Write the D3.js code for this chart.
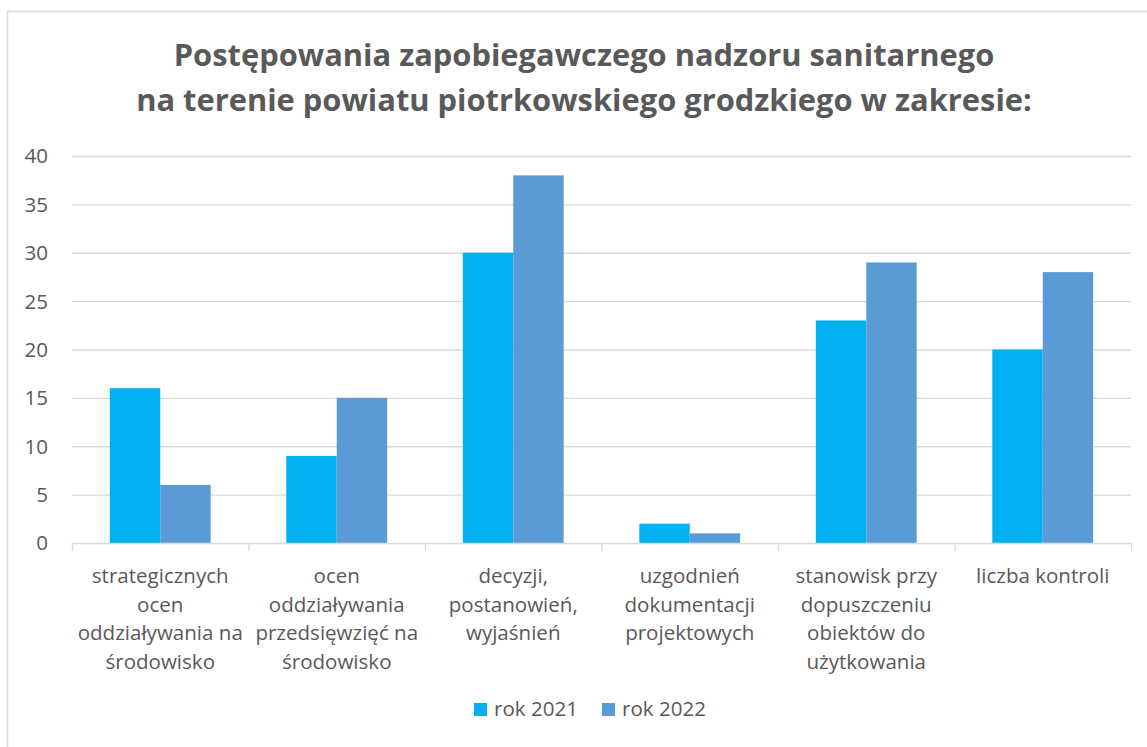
<!DOCTYPE html>
<html><head><meta charset="utf-8">
<script src="https://cdn.jsdelivr.net/npm/d3@7/dist/d3.min.js"></script>
<style>body{margin:0;background:#fff;} svg{display:block;font-family:"Open Sans",Lato,sans-serif;}</style>
</head><body>
<script>
const categories = [
  ["strategicznych","ocen","oddziaływania na","środowisko"],
  ["ocen","oddziaływania","przedsięwzięć na","środowisko"],
  ["decyzji,","postanowień,","wyjaśnień"],
  ["uzgodnień","dokumentacji","projektowych"],
  ["stanowisk przy","dopuszczeniu","obiektów do","użytkowania"],
  ["liczba kontroli"]
];
const seriesNames = ["rok 2021","rok 2022"];
const values2021 = [16, 9, 30, 2, 23, 20];
const values2022 = [6, 15, 38, 1, 29, 28];
const yTicks = [0,5,10,15,20,25,30,35,40];
const titleLines = ["Postępowania zapobiegawczego nadzoru sanitarnego","na terenie powiatu piotrkowskiego grodzkiego w zakresie:"];
const colors = ["#00B0F0","#5B9BD5"];

(function(){
const W=1147,H=747;
const svg=d3.select("body").append("svg").attr("width",W).attr("height",H);
svg.append("rect").attr("x",7.5).attr("y",11.5).attr("width",W+10).attr("height",H+10)
  .attr("fill","#fff").attr("stroke","#D9D9D9").attr("stroke-width",1.5);

// measure helper: font size so that a given string has target width
function fitSize(str, target, weight){
  const t=svg.append("text").attr("font-size",20).attr("font-weight",weight||"normal").text(str);
  const w=t.node().getComputedTextLength(); t.remove();
  return 20*target/w;
}
const fs=fitSize("strategicznych",137);
const tfs=fitSize(titleLines[1],896,"bold");

const pl=72,pr=1131,pt=156,pb=543;
const x=d3.scaleBand().domain(d3.range(categories.length)).range([pl,pr]).paddingInner(0).paddingOuter(0);
const y=d3.scaleLinear().domain([0,40]).range([pb,pt]);
const bw=x.bandwidth();
const barW=bw/3.5;
const x1=d3.scaleBand().domain([0,1]).range([0,2*barW]);

svg.append("g").selectAll("line").data(yTicks.filter(d=>d>0)).join("line")
  .attr("x1",pl).attr("x2",pr).attr("y1",d=>y(d)+0.5).attr("y2",d=>y(d)+0.5)
  .attr("stroke","#D9D9D9").attr("stroke-width",1.3);

svg.append("g").selectAll("text").data(yTicks).join("text")
  .attr("x",48).attr("y",d=>y(d)).attr("dy","0.36em").attr("text-anchor","end")
  .attr("fill","#595959").attr("font-size",fs).text(d=>d);

const series=[values2021,values2022];
series.forEach((vals,si)=>{
  svg.append("g").selectAll("rect").data(vals).join("rect")
    .attr("x",(d,i)=>x(i)+0.75*barW+x1(si))
    .attr("y",d=>y(d)).attr("width",x1.bandwidth()).attr("height",d=>y(0)-y(d))
    .attr("fill",colors[si]);
});

svg.append("line").attr("x1",pl).attr("x2",pr).attr("y1",pb+0.5).attr("y2",pb+0.5)
  .attr("stroke","#D9D9D9").attr("stroke-width",1.3);
const ticksX=d3.range(categories.length+1).map(i=>pl+i*bw);
svg.append("g").selectAll("line").data(ticksX).join("line")
  .attr("x1",d=>d+0.5).attr("x2",d=>d+0.5).attr("y1",pb).attr("y2",pb+8)
  .attr("stroke","#D9D9D9").attr("stroke-width",1.3);

const cl=svg.append("g").selectAll("text").data(categories).join("text")
  .attr("x",(d,i)=>x(i)+bw/2).attr("y",583).attr("text-anchor","middle")
  .attr("fill","#595959").attr("font-size",fs);
cl.selectAll("tspan").data(d=>d).join("tspan")
  .attr("x",function(){return this.parentNode.getAttribute("x");})
  .attr("dy",(d,i)=>i===0?0:28.7).text(d=>d);

svg.append("g").selectAll("text").data(titleLines).join("text")
  .attr("x",584).attr("y",(d,i)=>66+i*45).attr("text-anchor","middle")
  .attr("fill","#595959").attr("font-size",tfs).attr("font-weight","bold").text(d=>d);

const lg=svg.append("g");
const legendX=[474,602];
seriesNames.forEach((n,i)=>{
  lg.append("rect").attr("x",legendX[i]).attr("y",703).attr("width",13).attr("height",13).attr("fill",colors[i]);
  lg.append("text").attr("x",legendX[i]+20).attr("y",716)
    .attr("fill","#595959").attr("font-size",fs).text(n);
});
})();
</script>
</body></html>
